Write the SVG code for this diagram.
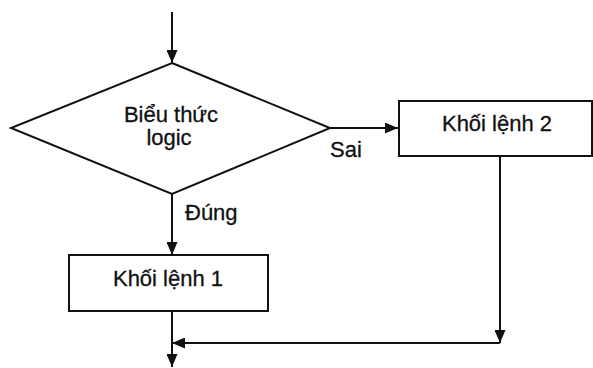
<svg xmlns="http://www.w3.org/2000/svg" width="593" height="368" viewBox="0 0 593 368">
<style>
.shape{fill:#fff;stroke:#111;stroke-width:2}
.line{fill:none;stroke:#111;stroke-width:2}
text{font-family:"Liberation Sans",Arial,sans-serif;font-size:22px;fill:#111;stroke:#111;stroke-width:0.3}
.c{text-anchor:middle}
</style>
<defs>
<marker id="arr" markerUnits="userSpaceOnUse" markerWidth="13" markerHeight="11" refX="13" refY="5.5" orient="auto">
<path d="M0,0 L13,5.5 L0,11 z" fill="#111"/>
</marker>
</defs>
<rect width="593" height="368" fill="#fff"/>
<g id="connectors">
<path class="line" d="M172,12 L172,63" marker-end="url(#arr)"/>
<path class="line" d="M330,128 L398,128" marker-end="url(#arr)"/>
<path class="line" d="M172,194 L172,255" marker-end="url(#arr)"/>
<path class="line" d="M500,156 L500,343" marker-end="url(#arr)"/>
<path class="line" d="M500,343 L172,343" marker-end="url(#arr)"/>
<path class="line" d="M172,311 L172,367" marker-end="url(#arr)"/>
<text x="330" y="157">Sai</text>
<text x="185" y="220">Đúng</text>
</g>
<g id="decision">
<polygon class="shape" points="172,63 330,128 172,194 11,128"/>
<text class="c" x="171" y="122">Biểu thức</text>
<text class="c" x="169" y="145">logic</text>
</g>
<g id="block2">
<rect class="shape" x="399" y="101" width="193" height="55"/>
<text class="c" x="497" y="131">Khối lệnh 2</text>
</g>
<g id="block1">
<rect class="shape" x="69" y="255" width="199" height="56"/>
<text class="c" x="168" y="286">Khối lệnh 1</text>
</g>
</svg>
